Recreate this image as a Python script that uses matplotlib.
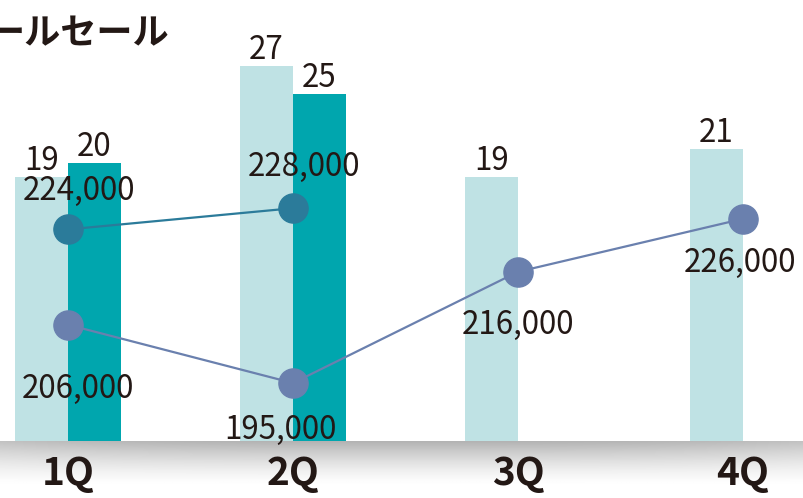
import matplotlib.pyplot as plt
import numpy as np

plt.rcParams['font.family'] = ['Noto Sans CJK JP', 'DejaVu Sans']

# data
quarters = ['1Q', '2Q', '3Q', '4Q']
bars_light = [19, 27, 19, 21]
bars_dark = [20, 25, None, None]
line_top = [224000, 228000, None, None]
line_bottom = [206000, 195000, 216000, 226000]
title = 'ールセール'

# colours
c_light = '#bfe2e4'
c_dark = '#00a6ae'
c_line_top = '#2b7b9a'
c_line_bottom = '#6a80ae'
c_text = '#231815'

W, H = 804, 498
fig = plt.figure(figsize=(W / 100, H / 100), dpi=100)

base_px = 441  # baseline from top
ax_bottom = (H - base_px) / H

# grey shadow below the baseline
sh = fig.add_axes([0, 0, 1, ax_bottom], zorder=0)
yy = np.linspace(0, 1, 60)[:, None]
xx = np.linspace(0, 1, 200)[None, :]
vert = np.clip(1 - yy / 0.8, 0, 1) ** 1.5
horiz = 1 - 0.2 * (np.abs(xx - 0.5) * 2) ** 3
shade = 1 - 0.3 * vert * horiz
sh.imshow(shade, cmap='gray', vmin=0, vmax=1, aspect='auto', extent=[0, 1, 0, 1])
sh.set_axis_off()

ax = fig.add_axes([0, ax_bottom, 1, base_px / H], zorder=1)
ax.patch.set_alpha(0)
x = np.arange(len(quarters))
w = 53 / 225
ax.set_xlim(-68 / 225, (W - 68) / 225)
ax.set_ylim(0, base_px / 13.9)

fs = 22.5

ax.bar(x - w / 2, bars_light, width=w, color=c_light, zorder=1)
dx = [i for i, v in enumerate(bars_dark) if v is not None]
dv = [bars_dark[i] for i in dx]
ax.bar(np.array(dx) + w / 2, dv, width=w, color=c_dark, zorder=1)

for i, v in enumerate(bars_light):
    ax.annotate(str(v), (i - w / 2, v), xytext=(0, 0), textcoords='offset points',
                ha='center', va='bottom', fontsize=fs, color=c_text)
for i, v in zip(dx, dv):
    ax.annotate(str(v), (i + w / 2, v), xytext=(0, 0), textcoords='offset points',
                ha='center', va='bottom', fontsize=fs, color=c_text)

for s in ax.spines.values():
    s.set_visible(False)
ax.set_yticks([])
ax.set_xticks(x)
ax.set_xticklabels(quarters, fontsize=28, fontweight='bold', color=c_text)
ax.tick_params(axis='x', length=0, pad=9)

ax2 = ax.twinx()
ax2.set_ylim(184060, 267300)
ax2.set_axis_off()

tx = [i for i, v in enumerate(line_top) if v is not None]
tv = [line_top[i] for i in tx]
ax2.plot(tx, tv, color=c_line_top, lw=1.6, marker='o', ms=21, zorder=3)
ax2.plot(x, line_bottom, color=c_line_bottom, lw=1.6, marker='o', ms=21, zorder=3)

# label offsets (points) relative to each marker
off_top = [(8, 16), (8, 18)]
off_bottom = [(7, -35), (-9, -22), (0, -27), (-2, -20)]
for i, v, o in zip(tx, tv, off_top):
    ax2.annotate(f'{v:,}', (i, v), xytext=o, textcoords='offset points',
                 ha='center', va='bottom', fontsize=fs, color=c_text)
for i, v, o in zip(x, line_bottom, off_bottom):
    ax2.annotate(f'{v:,}', (i, v), xytext=o, textcoords='offset points',
                 ha='center', va='top', fontsize=fs, color=c_text)

fig.text(-0.014, 0.97, title, ha='left', va='top', fontsize=26,
         fontweight='bold', color=c_text)

fig.savefig('out.png', dpi=100)
